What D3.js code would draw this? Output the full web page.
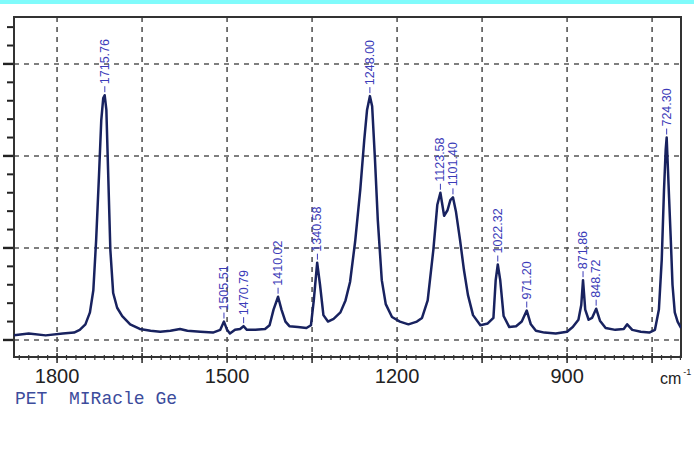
<!DOCTYPE html>
<html>
<head>
<meta charset="utf-8">
<title>PET MIRacle Ge</title>
<script src="https://cdn.jsdelivr.net/npm/d3@7"></script>
<style>
  body { margin: 0; background: #fff; }
  svg { display: block; }
</style>
</head>
<body>
<div id="chart"></div>
<script>
// spectrum: wavenumber (cm-1) and absorbance (grid units)
const wavenumbers = [1876, 1850, 1820, 1790, 1770, 1760, 1750, 1742, 1736, 1731, 1726, 1722, 1718.5, 1716, 1713, 1710, 1706, 1701, 1694, 1685, 1671, 1654, 1635, 1618, 1600, 1583, 1570, 1547, 1525, 1512, 1505.5, 1500, 1495, 1486, 1477, 1471, 1465, 1450, 1433, 1425, 1418, 1410, 1404, 1397, 1390, 1375, 1360, 1352, 1347, 1341, 1336, 1330, 1322, 1312, 1300, 1291, 1283, 1274, 1265, 1258, 1253, 1248, 1244, 1239, 1234, 1227, 1220, 1209, 1195, 1180, 1165, 1156, 1146, 1136, 1129, 1123.6, 1117, 1111, 1106, 1101.4, 1096, 1089, 1082, 1075, 1066, 1053, 1040, 1030, 1026, 1022.3, 1018, 1012, 1002, 990, 980, 971.2, 964, 955, 940, 920, 900, 890, 880, 875, 871.9, 868, 862, 856, 848.7, 842, 832, 815, 800, 794, 785, 770, 755, 745, 738, 733, 729, 726, 724.3, 722, 720, 717, 714, 710, 705, 699];
const absorbance = [0.05, 0.07, 0.05, 0.07, 0.08, 0.11, 0.17, 0.30, 0.54, 1.09, 1.79, 2.39, 2.63, 2.66, 2.50, 1.85, 0.98, 0.51, 0.35, 0.26, 0.17, 0.12, 0.10, 0.09, 0.10, 0.12, 0.10, 0.09, 0.08, 0.11, 0.20, 0.11, 0.07, 0.11, 0.12, 0.15, 0.11, 0.11, 0.12, 0.16, 0.33, 0.47, 0.33, 0.20, 0.15, 0.14, 0.13, 0.16, 0.43, 0.84, 0.60, 0.27, 0.20, 0.23, 0.30, 0.43, 0.63, 1.07, 1.63, 2.17, 2.50, 2.65, 2.54, 1.96, 1.30, 0.65, 0.39, 0.25, 0.20, 0.17, 0.20, 0.24, 0.43, 0.98, 1.47, 1.60, 1.35, 1.41, 1.52, 1.55, 1.39, 1.09, 0.76, 0.49, 0.27, 0.16, 0.18, 0.24, 0.65, 0.82, 0.65, 0.26, 0.14, 0.15, 0.20, 0.32, 0.17, 0.10, 0.08, 0.07, 0.09, 0.14, 0.22, 0.38, 0.65, 0.33, 0.22, 0.24, 0.34, 0.21, 0.13, 0.11, 0.12, 0.17, 0.11, 0.09, 0.08, 0.11, 0.33, 0.87, 1.63, 2.07, 2.20, 1.85, 1.54, 1.09, 0.60, 0.30, 0.20, 0.13];

// peak labels
const peakLabels = ["1715.76", "1505.51", "1470.79", "1410.02", "1340.58", "1248.00", "1123.58", "1101.40", "1022.32", "971.20", "871.86", "848.72", "724.30"];
const peakHeights = [2.66, 0.20, 0.15, 0.47, 0.84, 2.65, 1.60, 1.55, 0.82, 0.32, 0.65, 0.34, 2.20];

const xTickLabels = [1800, 1500, 1200, 900];
const xGrid = [1800, 1650, 1500, 1350, 1200, 1050, 900, 750];
const yGrid = [0, 1, 2, 3];

const W = 694, H = 450;
const pLeft = 14, pRight = 681, pTop = 17, pBottom = 357;

const svg = d3.select("#chart").append("svg")
  .attr("width", W).attr("height", H);

// cyan strip at the very top
svg.append("rect").attr("x", 0).attr("y", 0).attr("width", W).attr("height", 4)
  .attr("fill", "#80fbfb");

const x = d3.scaleLinear().domain([1876, 699]).range([pLeft, pRight]);
const y = d3.scaleLinear().domain([-0.185, 3.51]).range([pBottom, pTop]);

// dashed grid
const gridStyle = g => g.attr("stroke", "#555").attr("stroke-width", 1.6)
  .attr("stroke-dasharray", "5,5").attr("fill", "none");

svg.append("g").call(gridStyle).selectAll("line")
  .data(xGrid).join("line")
  .attr("x1", d => x(d)).attr("x2", d => x(d))
  .attr("y1", pTop).attr("y2", pBottom);

svg.append("g").call(gridStyle).selectAll("line")
  .data(yGrid).join("line")
  .attr("x1", pLeft).attr("x2", pRight)
  .attr("y1", d => y(d)).attr("y2", d => y(d));

// left ticks
const yMinor = d3.range(-0.2, 3.5, 0.2).filter(v => v > -0.185 && Math.abs(v - Math.round(v)) > 0.01);
svg.append("g").attr("stroke", "#222").attr("stroke-width", 2)
  .selectAll("line").data(yMinor).join("line")
  .attr("x1", pLeft - 7).attr("x2", pLeft)
  .attr("y1", d => y(d)).attr("y2", d => y(d));
svg.append("g").attr("stroke", "#222").attr("stroke-width", 2.4)
  .selectAll("line").data(yGrid).join("line")
  .attr("x1", pLeft - 11).attr("x2", pLeft)
  .attr("y1", d => y(d)).attr("y2", d => y(d));

// bottom ticks
const step = 150 / 9;
const xMinor = d3.range(-4, 70).map(k => 1800 - k * step)
  .filter(v => v < 1876 && v > 699);
svg.append("g").attr("stroke", "#333").attr("stroke-width", 1.2)
  .selectAll("line").data(xMinor).join("line")
  .attr("x1", d => x(d)).attr("x2", d => x(d))
  .attr("y1", pBottom - 2).attr("y2", pBottom + 3);
svg.append("g").attr("stroke", "#333").attr("stroke-width", 1.6)
  .selectAll("line").data(xGrid).join("line")
  .attr("x1", d => x(d)).attr("x2", d => x(d))
  .attr("y1", pBottom - 4).attr("y2", pBottom + 6);

// frame
svg.append("rect")
  .attr("x", pLeft).attr("y", pTop)
  .attr("width", pRight - pLeft).attr("height", pBottom - pTop)
  .attr("fill", "none").attr("stroke", "#333").attr("stroke-width", 2);

// spectrum
svg.append("clipPath").attr("id", "plot").append("rect")
  .attr("x", pLeft).attr("y", pTop).attr("width", pRight - pLeft).attr("height", pBottom - pTop);

const line = d3.line()
  .x(i => x(wavenumbers[i]))
  .y(i => y(absorbance[i]));

svg.append("path")
  .attr("clip-path", "url(#plot)")
  .attr("d", line(d3.range(wavenumbers.length)))
  .attr("fill", "none")
  .attr("stroke", "#18225f")
  .attr("stroke-width", 2.5)
  .attr("stroke-linejoin", "round");

// peak labels
const peaks = svg.append("g");
peakLabels.forEach((lab, i) => {
  const px = x(+lab), py = y(peakHeights[i]);
  peaks.append("line")
    .attr("x1", px).attr("x2", px)
    .attr("y1", py - 3).attr("y2", py - 9)
    .attr("stroke", "#3b3bb8").attr("stroke-width", 1);
  peaks.append("text")
    .attr("transform", `translate(${px + 4},${py - 11}) rotate(-90)`)
    .attr("font-family", "Liberation Sans, Arial, sans-serif")
    .attr("font-size", 12.5)
    .attr("fill", "#3b3bb8")
    .text(lab);
});

// x tick labels
svg.append("g").selectAll("text").data(xTickLabels).join("text")
  .attr("x", d => x(d)).attr("y", 383)
  .attr("text-anchor", "middle")
  .attr("font-family", "Liberation Sans, Arial, sans-serif")
  .attr("font-size", 20)
  .attr("fill", "#222")
  .text(d => d);

const unit = svg.append("text")
  .attr("x", 660).attr("y", 384)
  .attr("font-family", "Liberation Sans, Arial, sans-serif")
  .attr("font-size", 16)
  .attr("fill", "#222")
  .text("cm");
unit.append("tspan").attr("dx", 2).attr("dy", -9).attr("font-size", 9).text("-1");

svg.append("text")
  .attr("x", 15).attr("y", 404)
  .attr("font-family", "Liberation Mono, DejaVu Sans Mono, monospace")
  .attr("font-size", 18)
  .attr("fill", "#3c4c9c")
  .style("white-space", "pre")
  .text("PET  MIRacle Ge");
</script>
</body>
</html>
